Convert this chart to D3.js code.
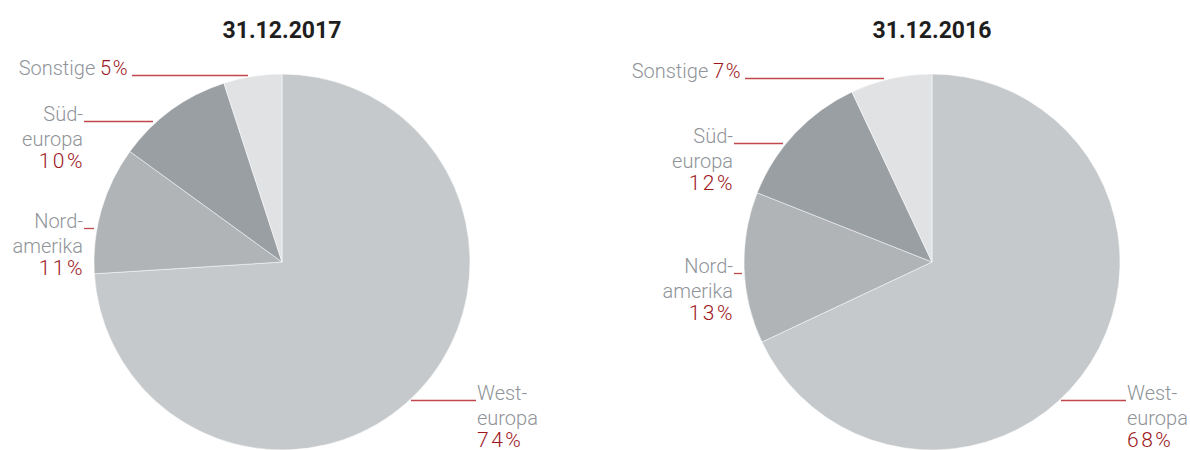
<!DOCTYPE html>
<html>
<head>
<meta charset="utf-8">
<script src="https://cdn.jsdelivr.net/npm/d3@7"></script>
<style>
  body { margin: 0; background: #fff; }
  text { font-family: Roboto, "Liberation Sans", sans-serif; }
</style>
</head>
<body>
<div id="chart"></div>
<script>
// regions, clockwise from 12 o'clock
let regions = ["Westeuropa", "Nordamerika", "Südeuropa", "Sonstige"];
let values2017 = [74, 11, 10, 5];
let values2016 = [68, 13, 12, 7];
let titles = ["31.12.2017", "31.12.2016"];
let colors = ["#c6c9cb", "#b0b4b6", "#9a9fa4", "#e1e2e4"];

let width = 1190, height = 450;
let radius = 188;
let grey = "#8f9499", red = "#9c161c", lineRed = "#c0484c";

let svg = d3.select("#chart")
    .append("svg")
    .attr("width", width)
    .attr("height", height);

let pie = d3.pie().sort(null).value(d => d);
let arc = d3.arc().innerRadius(0).outerRadius(radius);

// label layout per chart (text anchor point + leader line span)
let labelLayout = [
    {
        Sonstige: {x: 129, y: 75, lines: ["Sonstige"], inline: true, lx1: 132, lx2: 248},
        "Südeuropa": {x: 83, y: 121, lines: ["Süd-", "europa"], lx1: 84, lx2: 153},
        Nordamerika: {x: 83, y: 228, lines: ["Nord-", "amerika"], lx1: 84, lx2: 94},
        Westeuropa: {x: 477, y: 400, lines: ["West-", "europa"], start: true, lx1: 411, lx2: 476}
    },
    {
        Sonstige: {x: 742, y: 78, lines: ["Sonstige"], inline: true, lx1: 745, lx2: 884},
        "Südeuropa": {x: 733, y: 143, lines: ["Süd-", "europa"], lx1: 734, lx2: 783},
        Nordamerika: {x: 733, y: 273, lines: ["Nord-", "amerika"], lx1: 734, lx2: 742},
        Westeuropa: {x: 1127, y: 400, lines: ["West-", "europa"], start: true, lx1: 1061, lx2: 1126}
    }
];

let centers = [282, 932];
let cy = 262;

[values2017, values2016].forEach(function(vals, i) {
    let g = svg.append("g");

    g.append("text")
        .attr("x", centers[i])
        .attr("y", 38)
        .attr("text-anchor", "middle")
        .style("font-size", "23px")
        .style("font-weight", "bold")
        .attr("fill", "#1e1e1e")
        .text(titles[i]);

    let pg = g.append("g").attr("transform", "translate(" + centers[i] + "," + cy + ")");
    pg.selectAll("path")
        .data(pie(vals))
        .enter()
        .append("path")
        .attr("d", arc)
        .attr("fill", (d, k) => colors[k])
        .attr("stroke", "#fff")
        .attr("stroke-width", 0.5);

    regions.forEach(function(r, k) {
        let L = labelLayout[i][r];
        g.append("line")
            .attr("x1", L.lx1).attr("x2", L.lx2)
            .attr("y1", L.y + 0.5).attr("y2", L.y + 0.5)
            .attr("stroke", lineRed)
            .attr("stroke-width", 1.3);

        let t = g.append("text")
            .attr("text-anchor", L.start ? "start" : "end")
            .style("font-size", "20px")
            .style("font-weight", 300);

        if (L.inline) {
            t.attr("x", L.x).attr("y", L.y);
            t.append("tspan").attr("fill", grey).text(L.lines[0] + " ");
            t.append("tspan").attr("fill", red)
                .style("letter-spacing", "1.5px")
                .text(vals[k] + "%");
        } else {
            L.lines.forEach(function(s, j) {
                t.append("tspan")
                    .attr("x", L.x).attr("y", L.y + j * 24.5)
                    .attr("fill", grey)
                    .text(s);
            });
            let pct = g.append("text")
                .attr("text-anchor", L.start ? "start" : "end")
                .attr("x", L.start ? L.x : L.x + 2)
                .attr("y", L.y + 47)
                .attr("fill", red)
                .style("font-size", "21px")
                .style("font-weight", 300)
                .style("letter-spacing", "2.5px")
                .text(vals[k] + "%");
        }
    });
});
</script>
</body>
</html>
